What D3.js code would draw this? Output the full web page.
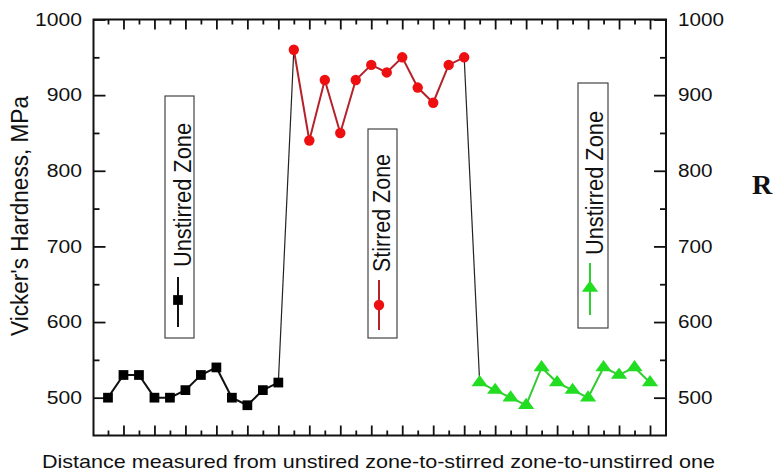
<!DOCTYPE html>
<html>
<head>
<meta charset="utf-8">
<script src="https://cdn.jsdelivr.net/npm/d3@7"></script>
<style>
  body { margin: 0; background: #fff; }
  text { font-family: "Liberation Sans", Arial, sans-serif; fill: #111; }
</style>
</head>
<body>
<div id="vis"></div>
<script>
// hardness readings (MPa)
var unstirredLeft  = [500, 530, 530, 500, 500, 510, 530, 540, 500, 490, 510, 520];
var stirred        = [960, 840, 920, 850, 920, 940, 930, 950, 910, 890, 940, 950];
var unstirredRight = [520, 510, 500, 490, 540, 520, 510, 500, 540, 530, 540, 520];

// tick values
var yMajor = [500, 600, 700, 800, 900, 1000];
var yMinor = [550, 650, 750, 850, 950];
var xMajor = d3.range(2, 37, 2);
var xMinor = d3.range(1, 37, 2);

var legendNames = ["Unstirred Zone", "Stirred Zone", "Unstirred Zone"];
var xTitle = "Distance measured from unstired zone-to-stirred zone-to-unstirred one";
var yTitle = "Vicker's Hardness, MPa";

// svg properties
var svgWidth = 779;
var svgHeight = 474;

var svg = d3.select('#vis').append('svg')
  .attr('width', svgWidth)
  .attr('height', svgHeight);

// scales (points sit at positions 1..36)
var xScale = d3.scaleLinear().domain([0, 37]).range([92.5, 665.5]);
var yScale = d3.scaleLinear().domain([450, 1000]).range([435.5, 19.5]);

// plot frame edges (window.top is taken, so prefix them)
var frameL = 93.5, frameR = 666, frameT = 19.5, frameB = 435.5;

// turn each series into {x, y} points
function toPoints(vals, start) {
  return vals.map(function(v, i) { return {x: start + i, y: v}; });
}
var black = toPoints(unstirredLeft, 1);
var red = toPoints(stirred, 13);
var green = toPoints(unstirredRight, 25);

// axes with inward ticks
function tickAxis(axis, vals, size, tx, ty, withLabels, pad, labelLen) {
  var g = svg.append('g')
    .attr('transform', 'translate(' + tx + ',' + ty + ')')
    .call(axis.tickValues(vals).tickSize(-size).tickPadding(pad || 3)
      .tickFormat(withLabels ? d3.format('d') : ''));
  g.select('.domain').remove();
  g.selectAll('line').attr('stroke', '#111').attr('stroke-width', 1.8);
  if (withLabels) {
    g.selectAll('text')
      .attr('font-size', 18)
      .attr('fill', '#111')
      .attr('textLength', function(d) { return String(d).length * labelLen; })
      .attr('lengthAdjust', 'spacingAndGlyphs');
  }
  return g;
}

tickAxis(d3.axisBottom(xScale), xMajor, 10, 0, frameB);
tickAxis(d3.axisBottom(xScale), xMinor, 5, 0, frameB);
tickAxis(d3.axisTop(xScale), xMajor, 10, 0, frameT);
tickAxis(d3.axisTop(xScale), xMinor, 5, 0, frameT);
tickAxis(d3.axisLeft(yScale), yMajor, 12, frameL, 0, true, 11.5, 11.75);
tickAxis(d3.axisLeft(yScale), yMinor, 6, frameL, 0);
tickAxis(d3.axisRight(yScale), yMajor, 12, frameR, 0, true, 12, 11.5);
tickAxis(d3.axisRight(yScale), yMinor, 6, frameR, 0);

// frame
svg.append('rect')
  .attr('x', frameL).attr('y', frameT)
  .attr('width', frameR - frameL).attr('height', frameB - frameT)
  .attr('fill', 'none')
  .attr('stroke', '#111')
  .attr('stroke-width', 2);

var makeLine = d3.line()
  .x(function(d) { return xScale(d.x); })
  .y(function(d) { return yScale(d.y); });

// thin black jumps between zones
[[black[black.length - 1], red[0]], [red[red.length - 1], green[0]]].forEach(function(seg) {
  svg.append('path')
    .attr('d', makeLine(seg))
    .attr('fill', 'none')
    .attr('stroke', '#222')
    .attr('stroke-width', 1.2);
});

var series = [
  {pts: black, line: '#111', fill: '#000', shape: d3.symbolSquare, size: 95},
  {pts: red, line: '#b5222a', fill: '#ee1010', shape: d3.symbolCircle, size: 85},
  {pts: green, line: '#33cc33', fill: '#22dd22', shape: d3.symbolTriangle, size: 80}
];

series.forEach(function(s) {
  svg.append('path')
    .attr('d', makeLine(s.pts))
    .attr('fill', 'none')
    .attr('stroke', s.line)
    .attr('stroke-width', 2);

  svg.selectAll(null)
    .data(s.pts)
    .enter().append('path')
    .attr('d', d3.symbol().type(s.shape).size(s.size))
    .attr('transform', function(d) {
      return 'translate(' + xScale(d.x) + ',' + yScale(d.y) + ')' +
        (s.shape === d3.symbolTriangle ? ' scale(1.2,0.95)' : '');
    })
    .attr('fill', s.fill);
});

// legend boxes, standing up inside the plot
var boxes = [
  {x: 165, y: 96, w: 29, h: 242, tx: 191, t0: 267, sx: 178, l0: 277, l1: 327, my: 300},
  {x: 368, y: 129, w: 29, h: 209, tx: 390, t0: 272, sx: 379, l0: 280, l1: 330, my: 305},
  {x: 578, y: 83, w: 30, h: 245, tx: 603, t0: 255, sx: 590, l0: 263, l1: 315, my: 288}
];

boxes.forEach(function(b, i) {
  var s = series[i];
  svg.append('rect')
    .attr('x', b.x).attr('y', b.y)
    .attr('width', b.w).attr('height', b.h)
    .attr('fill', 'white')
    .attr('stroke', '#444')
    .attr('stroke-width', 1.2);
  svg.append('line')
    .attr('x1', b.sx).attr('x2', b.sx)
    .attr('y1', b.l0).attr('y2', b.l1)
    .attr('stroke', s.line)
    .attr('stroke-width', 2);
  svg.append('path')
    .attr('d', d3.symbol().type(s.shape).size(s.size))
    .attr('transform', 'translate(' + b.sx + ',' + b.my + ')' +
      (s.shape === d3.symbolTriangle ? ' scale(1.2,0.95)' : ''))
    .attr('fill', s.fill);
  var len = i === 1 ? 118 : 144;
  svg.append('text')
    .attr('transform', 'translate(' + b.tx + ',' + b.t0 + ') rotate(-90)')
    .attr('font-size', 23)
    .attr('textLength', len)
    .attr('lengthAdjust', 'spacingAndGlyphs')
    .text(legendNames[i]);
});

// axis titles
svg.append('text')
  .attr('x', 42).attr('y', 468)
  .attr('font-size', 18.5)
  .attr('textLength', 673)
  .attr('lengthAdjust', 'spacingAndGlyphs')
  .text(xTitle);

svg.append('text')
  .attr('transform', 'translate(28,216) rotate(-90)')
  .attr('text-anchor', 'middle')
  .attr('font-size', 23)
  .attr('textLength', 240)
  .attr('lengthAdjust', 'spacingAndGlyphs')
  .text(yTitle);

// stray panel letter on the right
svg.append('text')
  .attr('x', 752).attr('y', 194)
  .style('font-family', '"Liberation Serif", "Times New Roman", serif')
  .style('font-weight', 'bold')
  .style('font-size', '28px')
  .text('R');
</script>
</body>
</html>
